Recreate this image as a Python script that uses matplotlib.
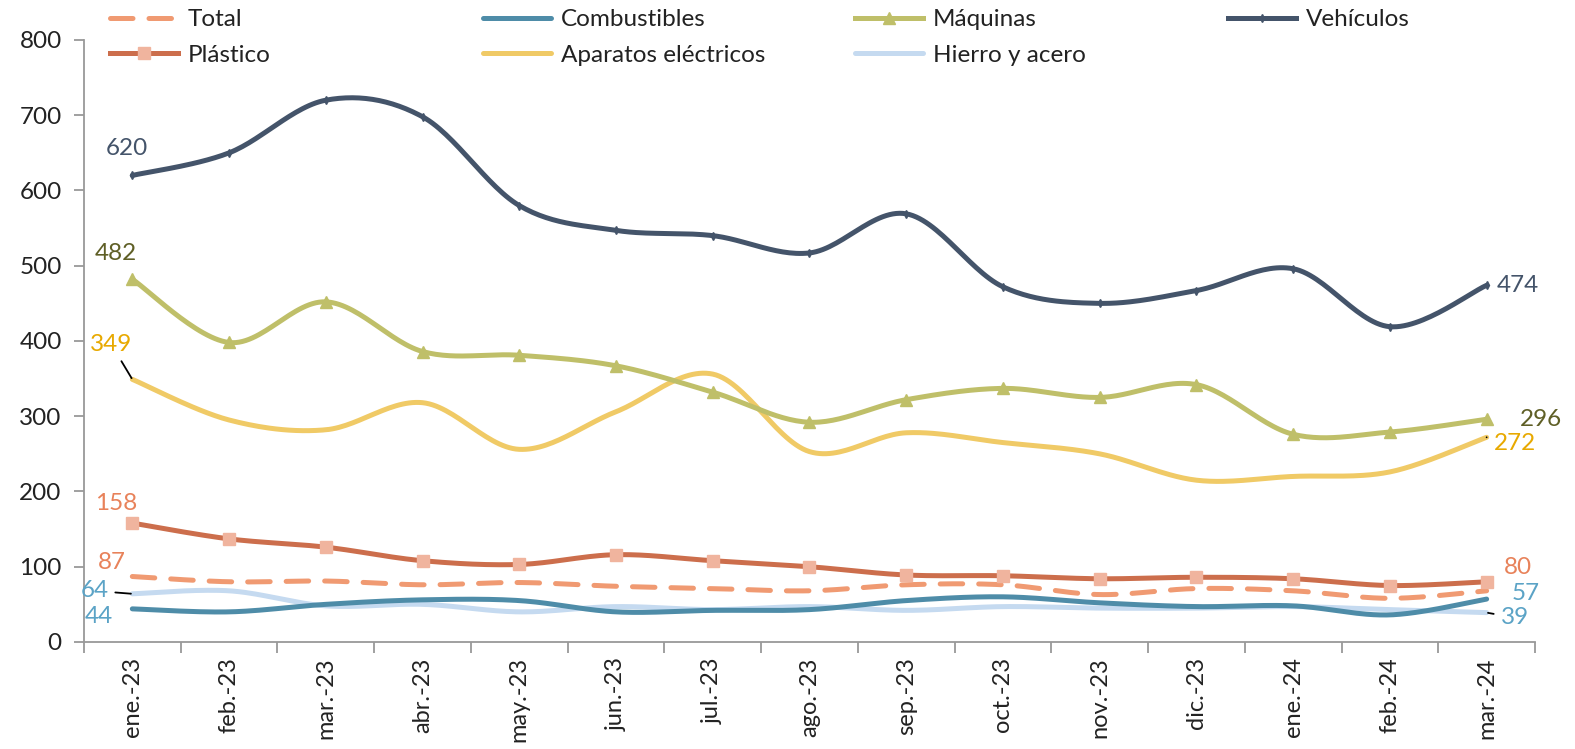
import numpy as np
import matplotlib
matplotlib.use("Agg")
import matplotlib.pyplot as plt
from matplotlib.ticker import FixedLocator, NullFormatter

plt.rcParams['font.family'] = ['Lato', 'DejaVu Sans']

# Data (millones)
meses = ['ene.-23', 'feb.-23', 'mar.-23', 'abr.-23', 'may.-23', 'jun.-23', 'jul.-23',
         'ago.-23', 'sep.-23', 'oct.-23', 'nov.-23', 'dic.-23', 'ene.-24', 'feb.-24', 'mar.-24']
total = [87, 80, 81, 76, 79, 74, 71, 68, 76, 76, 63, 71, 68, 58, 68]
plastico = [158, 137, 126, 108, 103, 116, 108, 100, 89, 88, 84, 86, 84, 75, 80]
combustibles = [44, 40, 50, 56, 55, 40, 42, 43, 55, 60, 52, 47, 48, 36, 57]
aparatos = [349, 295, 282, 318, 256, 306, 356, 253, 278, 265, 250, 215, 220, 226, 272]
maquinas = [482, 398, 452, 386, 381, 367, 332, 292, 322, 337, 325, 342, 276, 279, 296]
hierro = [64, 68, 48, 50, 40, 47, 43, 47, 42, 47, 45, 45, 47, 43, 39]
vehiculos = [620, 650, 720, 698, 580, 547, 540, 517, 569, 472, 450, 467, 496, 419, 474]


def smooth(y, n=30):
    # Excel-like smoothed line (cardinal bezier through the points)
    p = np.column_stack([np.arange(len(y)), np.asarray(y, float)])
    xs, ys = [], []
    for i in range(len(p) - 1):
        p0 = p[i - 1] if i > 0 else p[i]
        p1, p2 = p[i], p[i + 1]
        p3 = p[i + 2] if i + 2 < len(p) else p[i + 1]
        c1 = p1 + (p2 - p0) / 6
        c2 = p2 - (p3 - p1) / 6
        t = np.linspace(0, 1, n)[:, None]
        b = (1 - t) ** 3 * p1 + 3 * (1 - t) ** 2 * t * c1 + 3 * (1 - t) * t ** 2 * c2 + t ** 3 * p2
        xs.append(b[:, 0]); ys.append(b[:, 1])
    return np.concatenate(xs), np.concatenate(ys)


fig = plt.figure(figsize=(15.75, 7.49), dpi=100)
ax = fig.add_axes([0.0533, 0.1429, 0.9213, 0.8037])
x = np.arange(len(meses))
lw = 3.6

c_total = '#F09A72'
c_plas = '#CC6E4C'
c_comb = '#4E8CA8'
c_apar = '#F0CA66'
c_maq = '#BFBF69'
c_hier = '#C5DAF0'
c_veh = '#44546A'

series = [
    ('Hierro y acero', hierro, c_hier, None, '-'),
    ('Combustibles', combustibles, c_comb, None, '-'),
    ('Total', total, c_total, None, '--'),
    ('Plástico', plastico, c_plas, 's', '-'),
    ('Aparatos eléctricos', aparatos, c_apar, None, '-'),
    ('Máquinas', maquinas, c_maq, '^', '-'),
    ('Vehículos', vehiculos, c_veh, 'd', '-'),
]
handles = {}
for name, vals, col, mk, ls in series:
    sx, sy = smooth(vals)
    if ls == '--':
        ln, = ax.plot(sx, sy, color=col, lw=lw, ls=(0, (4.5, 3.2)), dash_capstyle='round',
                      solid_capstyle='round')
    else:
        ln, = ax.plot(sx, sy, color=col, lw=lw, solid_capstyle='round')
    if mk == 's':
        ax.plot(x, vals, ls='none', marker='s', ms=8.5, mfc='#F0B49E', mec='#F0B49E')
        h, = ax.plot([], [], color=col, lw=lw, marker='s', ms=8.5, mfc='#F0B49E', mec='#F0B49E')
    elif mk == '^':
        ax.plot(x, vals, ls='none', marker='^', ms=9, color=col)
        h, = ax.plot([], [], color=col, lw=lw, marker='^', ms=9)
    elif mk == 'd':
        ax.plot(x, vals, ls='none', marker='d', ms=4, color=col)
        h, = ax.plot([], [], color=col, lw=lw, marker='d', ms=4)
    else:
        h = ln
    handles[name] = h

# legend: four fixed columns
columns = [['Total', 'Plástico'], ['Combustibles', 'Aparatos eléctricos'],
           ['Máquinas', 'Hierro y acero'], ['Vehículos']]
col_x = [110, 483, 855, 1228]
for names, px in zip(columns, col_x):
    leg = fig.legend([handles[k] for k in names], names, loc='upper left',
                     bbox_to_anchor=(px / 1575, 1 - 9 / 749), frameon=False, fontsize=17.5,
                     handlelength=2.8, handletextpad=0.4, labelspacing=0.6,
                     borderpad=0, borderaxespad=0)
    for t in leg.get_texts():
        t.set_color('#222222')

ax.set_xlim(-0.5, len(meses) - 0.5)
ax.set_ylim(0, 800)
ax.set_yticks(range(0, 801, 100))
ax.set_xticks(x)
ax.set_xticklabels(meses, rotation=90, fontsize=17, color='#222222')
ax.xaxis.set_minor_locator(FixedLocator(np.arange(-0.5, len(meses), 1)))
ax.xaxis.set_minor_formatter(NullFormatter())
ax.tick_params(axis='x', which='major', length=0, pad=11)
ax.tick_params(axis='x', which='minor', length=8, color='#999999', width=1.3)
ax.tick_params(axis='y', length=7, color='#999999', width=1.3, labelsize=17.5,
               labelcolor='#222222', pad=9)
for s in ['top', 'right']:
    ax.spines[s].set_visible(False)
for s in ['left', 'bottom']:
    ax.spines[s].set_color('#999999')
    ax.spines[s].set_linewidth(1.3)

# data labels (offsets in pixels)
lab_fs = 17.5
def label(i, vals, dx, dy, col, leader=False):
    kw = {}
    if leader:
        kw['arrowprops'] = dict(arrowstyle='-', color='black', lw=1.3, shrinkA=3, shrinkB=1)
    ax.annotate(str(vals[i]), (i, vals[i]), xytext=(dx, dy), textcoords='offset pixels',
                ha='center', va='center', fontsize=lab_fs, color=col, **kw)

label(0, vehiculos, -5, 27, c_veh)
label(0, maquinas, -16, 26, '#5F5F26')
label(0, aparatos, -21, 35, '#E8A900', leader=True)
label(0, plastico, -16, 20, '#E8825A')
label(0, total, -20, 14, '#E8825A')
label(0, hierro, -38, 3, '#5BA3C6', leader=True)
label(0, combustibles, -33, -8, '#5BA3C6')
n = len(meses) - 1
label(n, vehiculos, 31, 0, c_veh)
label(n, maquinas, 54, 0, '#5F5F26')
label(n, aparatos, 28, -6, '#E8A900', leader=True)
label(n, plastico, 31, 14, '#E8825A')
label(n, combustibles, 39, 6, '#5BA3C6')
label(n, hierro, 28, -5, '#5BA3C6', leader=True)

fig.savefig('out.png', dpi=100)
